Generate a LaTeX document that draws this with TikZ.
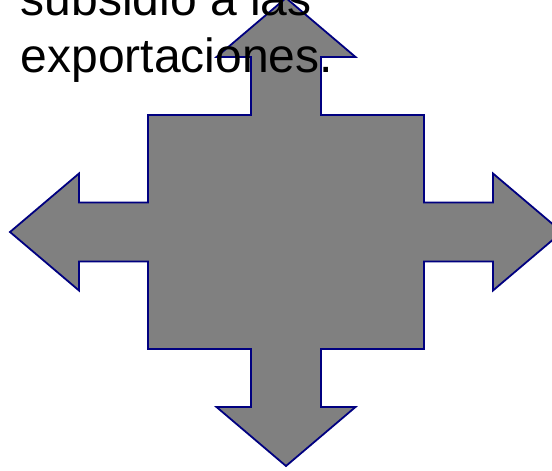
\documentclass[tikz,border=0pt]{standalone}
\usepackage{fontspec}
\setmainfont{Liberation Sans}
\usepackage{xcolor}
\usepackage{tikz}
\definecolor{arrowfill}{HTML}{808080}
\definecolor{arrowline}{HTML}{000080}

\begin{document}
\begin{tikzpicture}[%
          x=1pt,y=-1pt,
          quad/.style={
              fill=arrowfill,
              draw=arrowline,
              line width=1.8pt,
              line join=miter
            },
          caption/.style={
              inner sep=0pt,
              align=left,
              anchor=base west,
              font=\fontsize{48}{57.7}\selectfont
            }
        ]

        % 枠
        \useasboundingbox (0,0) rectangle (552,471);
        \clip (0,0) rectangle (552,471);

        % 中心
        \coordinate (center) at (286,232);

        % 十字矢印
        \draw[quad]
          (286,-2) -- (355.5,57) -- (321,57) -- (321,115)
          -- (424,115) -- (424,202.5) -- (493,202.5) -- (493,173.5)
          -- (562,232) -- (493,290.5) -- (493,261.5) -- (424,261.5)
          -- (424,349) -- (321,349) -- (321,407) -- (355.5,407)
          -- (286,466) -- (216.5,407) -- (251,407) -- (251,349)
          -- (148,349) -- (148,261.5) -- (79,261.5) -- (79,290.5)
          -- (10,232) -- (79,173.5) -- (79,202.5) -- (148,202.5)
          -- (148,115) -- (251,115) -- (251,57) -- (216.5,57) -- cycle;

        % 文字(最後の行の基線で配置)
        \node[caption] (subsidio) at (20.5,72.7) {subsidio a las\\exportaciones.};

      \end{tikzpicture}
\end{document}
